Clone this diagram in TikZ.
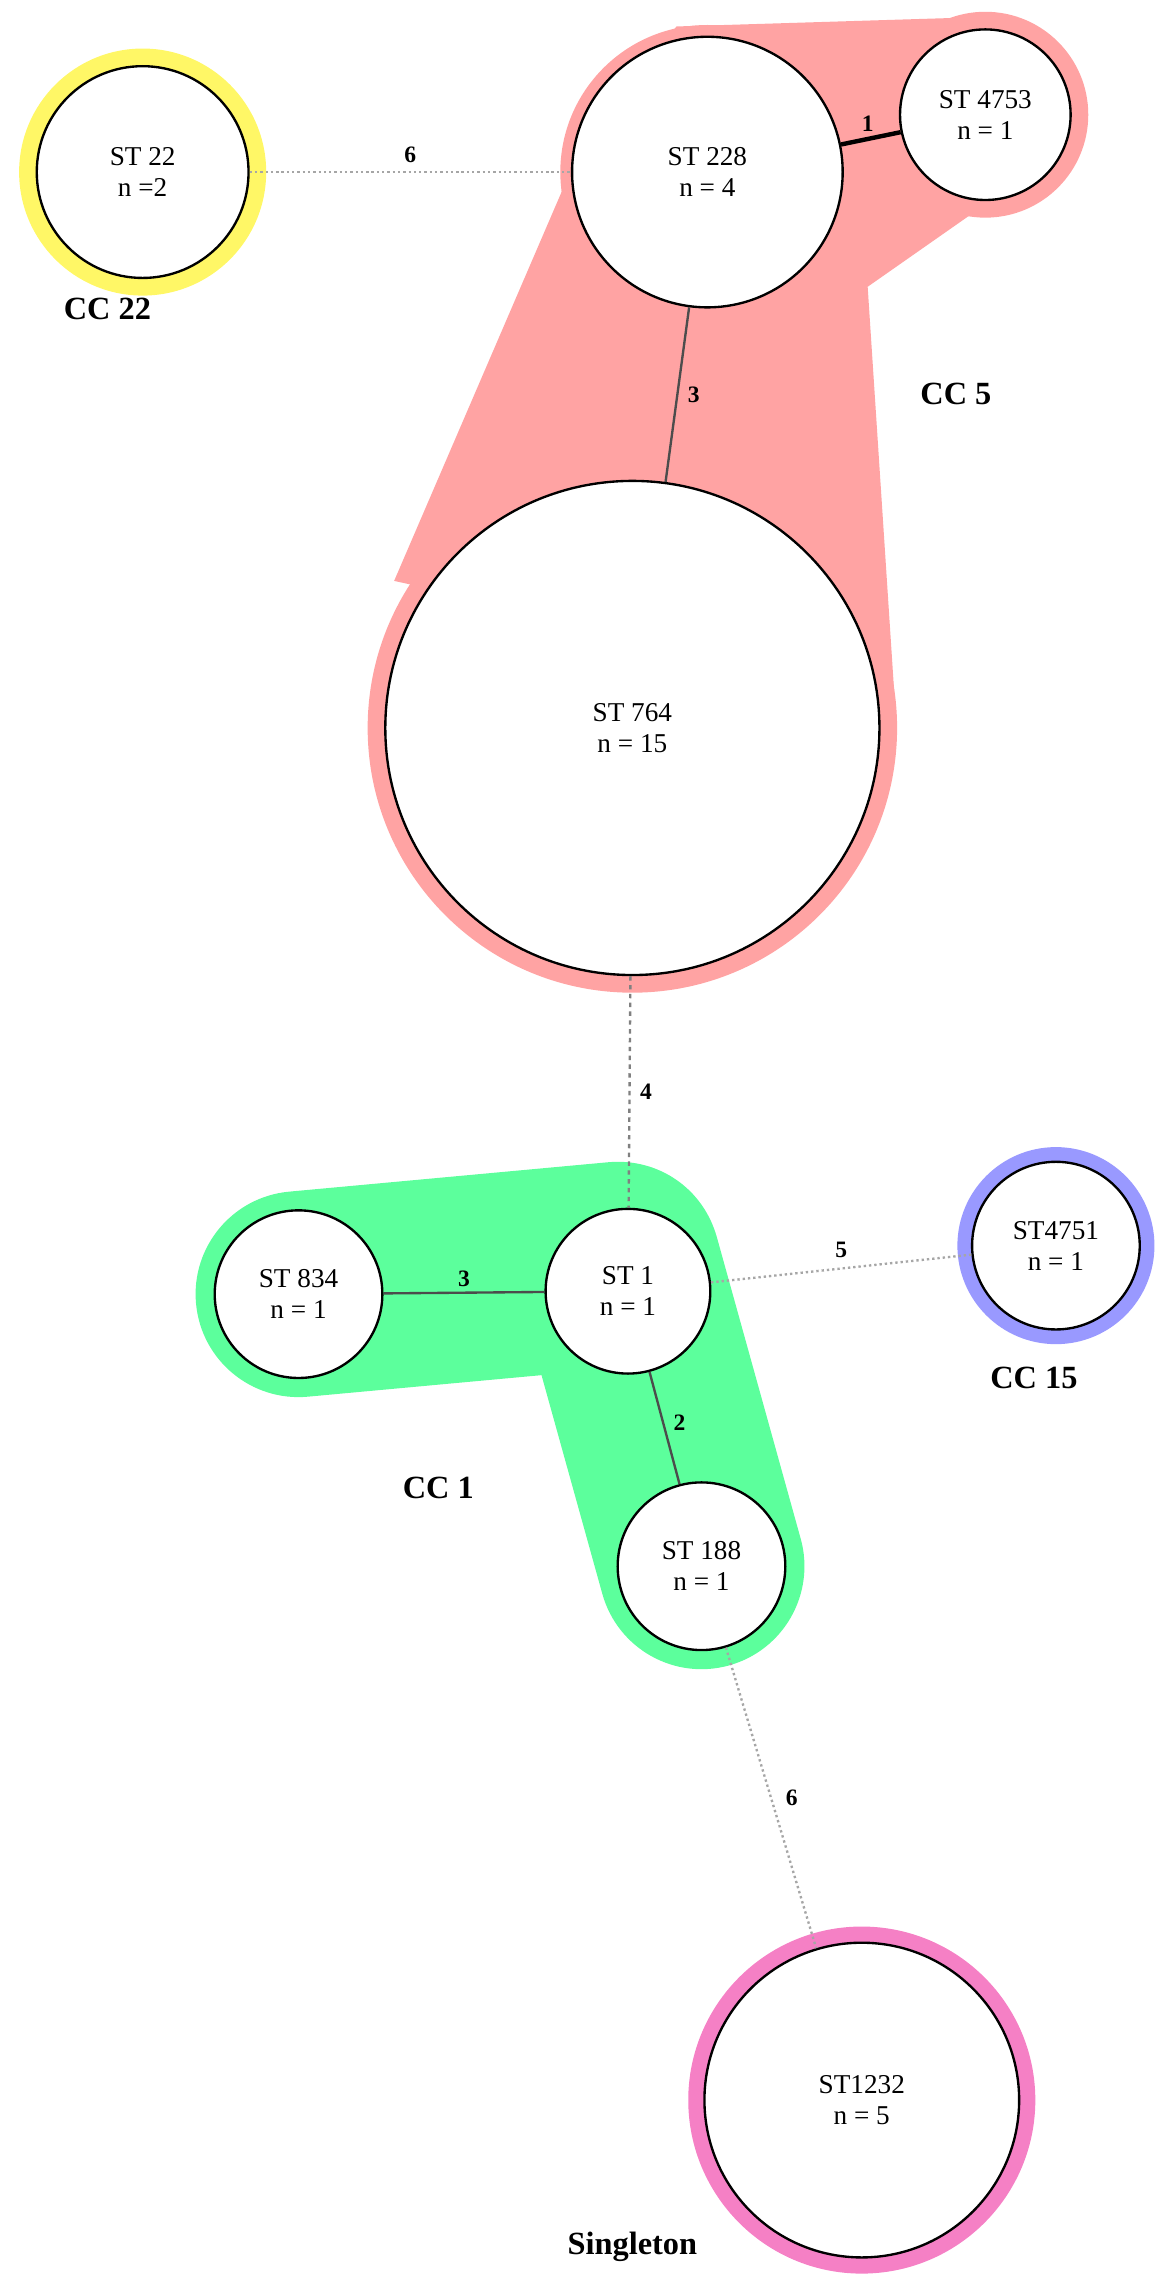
\documentclass[tikz,border=0pt]{standalone}
\usepackage{fontspec}
\setmainfont{Liberation Serif}
\begin{document}
\begin{tikzpicture}[x=1pt,y=-1pt,
  st/.style={circle,draw=black,line width=1.6pt,fill=white,align=center,font=\fontsize{18.5}{21}\selectfont,inner sep=0pt},
  lab/.style={font=\bfseries\fontsize{16}{18}\selectfont},
  cc/.style={font=\bfseries\fontsize{22}{25}\selectfont},
  dot/.style={gray!70,line width=1.6pt,dotted},
  dsh/.style={gray,line width=1.6pt,dashed},
  sol/.style={black!70,line width=1.6pt}]
\useasboundingbox (0,0) rectangle (790,1549);
\definecolor{pinkh}{HTML}{FFA3A3}
\definecolor{greenh}{HTML}{5CFF9C}
% hulls
\fill[pinkh] (430,495) circle (180);
\fill[pinkh] (670,78) circle (70);
\fill[pinkh] (481,117) circle (100);
\fill[pinkh] (395,100)--(268,395)--(608,470)--(590,195)--(660,146)--(655,12)--(460,18)--cycle;
\draw[greenh,line width=140pt,line cap=round,line join=round] (203,880)--(420,860)--(477,1065);
\fill[yellow!60] (97,117) circle (84);
\fill[blue!40] (718,847) circle (67);
\fill[magenta!50] (586,1428) circle (118);
% nodes
\node[st,minimum size=144pt] (s22) at (97,117) {ST 22\\n =2};
\node[st,minimum size=184pt] (s228) at (481,117) {ST 228\\n = 4};
\node[st,minimum size=116pt] (s4753) at (670,78) {ST 4753\\n = 1};
\node[st,minimum size=336pt] (s764) at (430,495) {ST 764\\n = 15};
\node[st,minimum size=112pt] (s1) at (427,878) {ST 1\\n = 1};
\node[st,minimum size=114pt] (s834) at (203,880) {ST 834\\n = 1};
\node[st,minimum size=114pt] (s188) at (477,1065) {ST 188\\n = 1};
\node[st,minimum size=114pt] (s4751) at (718,847) {ST4751\\n = 1};
\node[st,minimum size=214pt] (s1232) at (586,1428) {ST1232\\n = 5};
% edges
\draw[dot] (s22)--(s228) node[lab,pos=0.5,above=2pt,black]{6};
\draw[black,line width=3pt] (s228)--(s4753) node[lab,pos=0.45,above,black]{1};
\draw[sol] (s228)--(s764) node[lab,pos=0.5,right=3pt,black]{3};
\draw[dsh] (s764)--(s1) node[lab,pos=0.5,right=3pt,black]{4};
\draw[sol] (s1)--(s834) node[lab,pos=0.5,above,black]{3};
\draw[sol] (s1)--(s188) node[lab,pos=0.45,right=3pt,black]{2};
\draw[dot] (s1)--(s4751) node[lab,pos=0.5,above=3pt,black]{5};
\draw[dot] (s188)--(s1232) node[lab,pos=0.5,right=6pt,black]{6};
% cluster labels
\node[cc] (c22) at (73,210) {CC 22};
\node[cc] (c5) at (650,268) {CC 5};
\node[cc] (c15) at (703,937) {CC 15};
\node[cc] (c1) at (298,1012) {CC 1};
\node[cc] (cs) at (430,1528) {Singleton};
\end{tikzpicture}
\end{document}
